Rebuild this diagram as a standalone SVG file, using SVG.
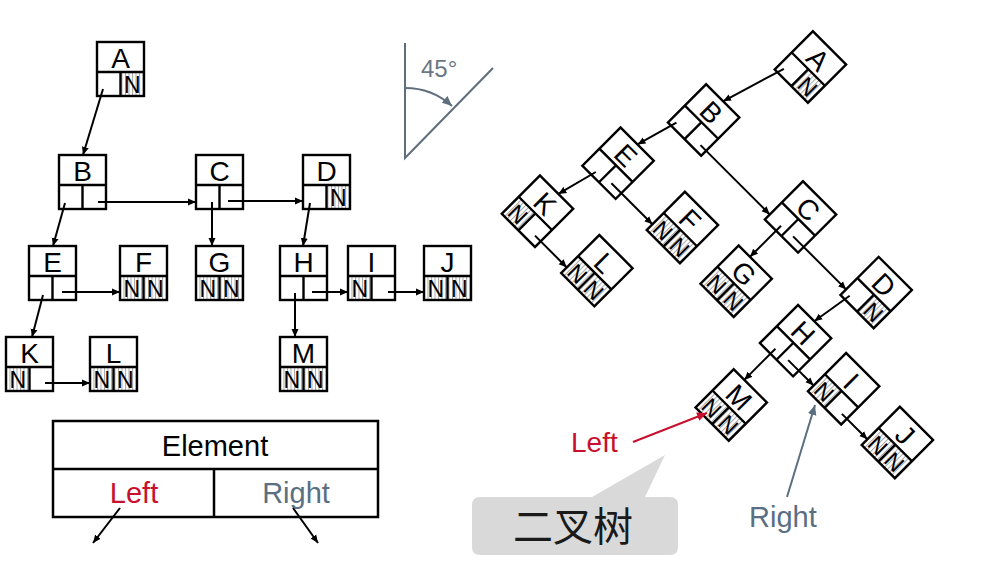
<svg xmlns="http://www.w3.org/2000/svg" xmlns:xlink="http://www.w3.org/1999/xlink" width="999" height="585" viewBox="0 0 999 585">
<style>
.bx{fill:none;stroke:#000;stroke-width:2.4}
.lt{font-family:"Liberation Sans",Arial,sans-serif;font-size:28px;fill:#000;text-anchor:middle}
.nt{font-family:"Liberation Sans",Arial,sans-serif;font-size:23px;fill:#000;text-anchor:middle}
.hc{fill:url(#hp);stroke:none}
.cn{fill:none;stroke:#000;stroke-width:2;marker-end:url(#ah)}
.lbl{font-family:"Liberation Sans",Arial,sans-serif;font-size:29px}
</style>
<defs>
<pattern id="hp" width="3.5" height="4" patternUnits="userSpaceOnUse"><rect width="1" height="4" fill="#a8a8a8"/></pattern>
<marker id="ah" viewBox="0 0 8 8" refX="8" refY="4" markerWidth="8" markerHeight="8" markerUnits="userSpaceOnUse" orient="auto"><path d="M0,0.5 L8,4 L0,7.5 z" fill="#000"/></marker>
<marker id="ahr" viewBox="0 0 8 8" refX="8" refY="4" markerWidth="10" markerHeight="10" markerUnits="userSpaceOnUse" orient="auto"><path d="M0,0.5 L8,4 L0,7.5 z" fill="#c8102e"/></marker>
<marker id="ahg" viewBox="0 0 8 8" refX="8" refY="4" markerWidth="10" markerHeight="10" markerUnits="userSpaceOnUse" orient="auto"><path d="M0,0.5 L8,4 L0,7.5 z" fill="#5a6f82"/></marker>
<marker id="ahs" viewBox="0 0 8 8" refX="8" refY="4" markerWidth="10" markerHeight="10" markerUnits="userSpaceOnUse" orient="auto"><path d="M0,0.5 L8,4 L0,7.5 z" fill="#5f6e7c"/></marker>
<g id="box"><rect class="bx" x="0" y="0" width="47" height="54"/><path class="bx" d="M0,30 H47 M23.5,30 V54"/></g>
</defs>
<rect width="999" height="585" fill="#fff"/>

<!-- left tree -->
<g id="leftTree">
<g id="nA" transform="translate(97,42)"><rect class="hc" x="23.5" y="30" width="23.5" height="24"/><use href="#box"/><text class="lt" x="23.5" y="26">A</text><text class="nt" x="35.25" y="51">N</text></g>
<g id="nB" transform="translate(59,155)"><use href="#box"/><text class="lt" x="23.5" y="26">B</text></g>
<g id="nC" transform="translate(196,155)"><use href="#box"/><text class="lt" x="23.5" y="26">C</text></g>
<g id="nD" transform="translate(303,155)"><rect class="hc" x="23.5" y="30" width="23.5" height="24"/><use href="#box"/><text class="lt" x="23.5" y="26">D</text><text class="nt" x="35.25" y="51">N</text></g>
<g id="nE" transform="translate(29,246)"><use href="#box"/><text class="lt" x="23.5" y="26">E</text></g>
<g id="nF" transform="translate(120,246)"><rect class="hc" x="0" y="30" width="47" height="24"/><use href="#box"/><text class="lt" x="23.5" y="26">F</text><text class="nt" x="11.75" y="51">N</text><text class="nt" x="35.25" y="51">N</text></g>
<g id="nG" transform="translate(196,246)"><rect class="hc" x="0" y="30" width="47" height="24"/><use href="#box"/><text class="lt" x="23.5" y="26">G</text><text class="nt" x="11.75" y="51">N</text><text class="nt" x="35.25" y="51">N</text></g>
<g id="nH" transform="translate(280,246)"><use href="#box"/><text class="lt" x="23.5" y="26">H</text></g>
<g id="nI" transform="translate(348,246)"><rect class="hc" x="0" y="30" width="23.5" height="24"/><use href="#box"/><text class="lt" x="23.5" y="26">I</text><text class="nt" x="11.75" y="51">N</text></g>
<g id="nJ" transform="translate(424,246)"><rect class="hc" x="0" y="30" width="47" height="24"/><use href="#box"/><text class="lt" x="23.5" y="26">J</text><text class="nt" x="11.75" y="51">N</text><text class="nt" x="35.25" y="51">N</text></g>
<g id="nK" transform="translate(6,337)"><rect class="hc" x="0" y="30" width="23.5" height="24"/><use href="#box"/><text class="lt" x="23.5" y="26">K</text><text class="nt" x="11.75" y="51">N</text></g>
<g id="nL" transform="translate(90,337)"><rect class="hc" x="0" y="30" width="47" height="24"/><use href="#box"/><text class="lt" x="23.5" y="26">L</text><text class="nt" x="11.75" y="51">N</text><text class="nt" x="35.25" y="51">N</text></g>
<g id="nM" transform="translate(280,337)"><rect class="hc" x="0" y="30" width="47" height="24"/><use href="#box"/><text class="lt" x="23.5" y="26">M</text><text class="nt" x="11.75" y="51">N</text><text class="nt" x="35.25" y="51">N</text></g>
<g id="leftConnectors">
<path class="cn" d="M103,89 L83,155"/>
<path class="cn" d="M65,203 L53,246"/>
<path class="cn" d="M98,202 L196,202"/>
<path class="cn" d="M212,202 L212,246"/>
<path class="cn" d="M228,201 L303,201"/>
<path class="cn" d="M310,203 L303,246"/>
<path class="cn" d="M43,295 L32,337"/>
<path class="cn" d="M62,292 L120,292"/>
<path class="cn" d="M295,293 L295,337"/>
<path class="cn" d="M312,292 L348,292"/>
<path class="cn" d="M388,292 L424,292"/>
<path class="cn" d="M45,383 L90,383"/>
</g>
</g>

<!-- rotated tree -->
<g id="rightTree" transform="translate(774,-67) rotate(45)">
<g id="rA" transform="translate(97,42)"><rect class="hc" x="23.5" y="30" width="23.5" height="24"/><use href="#box"/><text class="lt" x="23.5" y="26">A</text><text class="nt" x="35.25" y="51">N</text></g>
<g id="rB" transform="translate(59,155)"><use href="#box"/><text class="lt" x="23.5" y="26">B</text></g>
<g id="rC" transform="translate(196,155)"><use href="#box"/><text class="lt" x="23.5" y="26">C</text></g>
<g id="rD" transform="translate(303,155)"><rect class="hc" x="23.5" y="30" width="23.5" height="24"/><use href="#box"/><text class="lt" x="23.5" y="26">D</text><text class="nt" x="35.25" y="51">N</text></g>
<g id="rE" transform="translate(29,246)"><use href="#box"/><text class="lt" x="23.5" y="26">E</text></g>
<g id="rF" transform="translate(120,246)"><rect class="hc" x="0" y="30" width="47" height="24"/><use href="#box"/><text class="lt" x="23.5" y="26">F</text><text class="nt" x="11.75" y="51">N</text><text class="nt" x="35.25" y="51">N</text></g>
<g id="rG" transform="translate(196,246)"><rect class="hc" x="0" y="30" width="47" height="24"/><use href="#box"/><text class="lt" x="23.5" y="26">G</text><text class="nt" x="11.75" y="51">N</text><text class="nt" x="35.25" y="51">N</text></g>
<g id="rH" transform="translate(280,246)"><use href="#box"/><text class="lt" x="23.5" y="26">H</text></g>
<g id="rI" transform="translate(348,246)"><rect class="hc" x="0" y="30" width="23.5" height="24"/><use href="#box"/><text class="lt" x="23.5" y="26">I</text><text class="nt" x="11.75" y="51">N</text></g>
<g id="rJ" transform="translate(424,246)"><rect class="hc" x="0" y="30" width="47" height="24"/><use href="#box"/><text class="lt" x="23.5" y="26">J</text><text class="nt" x="11.75" y="51">N</text><text class="nt" x="35.25" y="51">N</text></g>
<g id="rK" transform="translate(6,337)"><rect class="hc" x="0" y="30" width="23.5" height="24"/><use href="#box"/><text class="lt" x="23.5" y="26">K</text><text class="nt" x="11.75" y="51">N</text></g>
<g id="rL" transform="translate(90,337)"><rect class="hc" x="0" y="30" width="47" height="24"/><use href="#box"/><text class="lt" x="23.5" y="26">L</text><text class="nt" x="11.75" y="51">N</text><text class="nt" x="35.25" y="51">N</text></g>
<g id="rM" transform="translate(280,337)"><rect class="hc" x="0" y="30" width="47" height="24"/><use href="#box"/><text class="lt" x="23.5" y="26">M</text><text class="nt" x="11.75" y="51">N</text><text class="nt" x="35.25" y="51">N</text></g>
<g id="rightConnectors">
<path class="cn" d="M103,89 L83,155"/>
<path class="cn" d="M65,203 L53,246"/>
<path class="cn" d="M98,202 L196,202"/>
<path class="cn" d="M212,202 L212,246"/>
<path class="cn" d="M228,201 L303,201"/>
<path class="cn" d="M310,203 L303,246"/>
<path class="cn" d="M43,295 L32,337"/>
<path class="cn" d="M62,292 L120,292"/>
<path class="cn" d="M295,293 L295,337"/>
<path class="cn" d="M312,292 L348,292"/>
<path class="cn" d="M388,292 L424,292"/>
<path class="cn" d="M45,383 L90,383"/>
</g>
</g>

<!-- 45 degree icon -->
<g id="angle">
<path d="M405,43 L405,158 L493,68" fill="none" stroke="#5f6e7c" stroke-width="2"/>
<path d="M405,88 A70,70 0 0 1 452,106" fill="none" stroke="#5f6e7c" stroke-width="2" marker-end="url(#ahs)"/>
<text x="421" y="77" font-family="Liberation Sans, Arial, sans-serif" font-size="24" fill="#6a7783">45°</text>
</g>

<!-- legend node structure -->
<g id="legend">
<rect x="53" y="421" width="325" height="96" fill="none" stroke="#000" stroke-width="2.5"/>
<path d="M53,469 H378 M214,469 V517" fill="none" stroke="#000" stroke-width="2.5"/>
<text class="lbl" x="215" y="456" text-anchor="middle" fill="#000">Element</text>
<text class="lbl" x="134" y="503" text-anchor="middle" fill="#c8102e">Left</text>
<text class="lbl" x="296" y="503" text-anchor="middle" fill="#5a6f82">Right</text>
<path class="cn" d="M120,508 L93,543"/>
<path class="cn" d="M293,508 L318,543"/>
</g>

<!-- annotations -->
<g id="annotations">
<text x="571" y="452" font-family="Liberation Sans, Arial, sans-serif" font-size="28" fill="#c8102e">Left</text>
<path d="M633,442 L707,413" fill="none" stroke="#c8102e" stroke-width="2" marker-end="url(#ahr)"/>
<text x="749" y="527" font-family="Liberation Sans, Arial, sans-serif" font-size="29" fill="#5a6f82">Right</text>
<path d="M787,497 L815,405" fill="none" stroke="#5a6f82" stroke-width="2" marker-end="url(#ahg)"/>
</g>

<!-- callout -->
<g id="callout">
<path d="M480,497 H592 L665,455 L645,497 H670 Q678,497 678,505 V547 Q678,555 670,555 H480 Q472,555 472,547 V505 Q472,497 480,497 Z" fill="#d9d9d9"/>
<text x="573" y="541" text-anchor="middle" font-family="Noto Sans CJK SC, sans-serif" font-size="40" fill="#1a1a1a">二叉树</text>
</g>
</svg>
